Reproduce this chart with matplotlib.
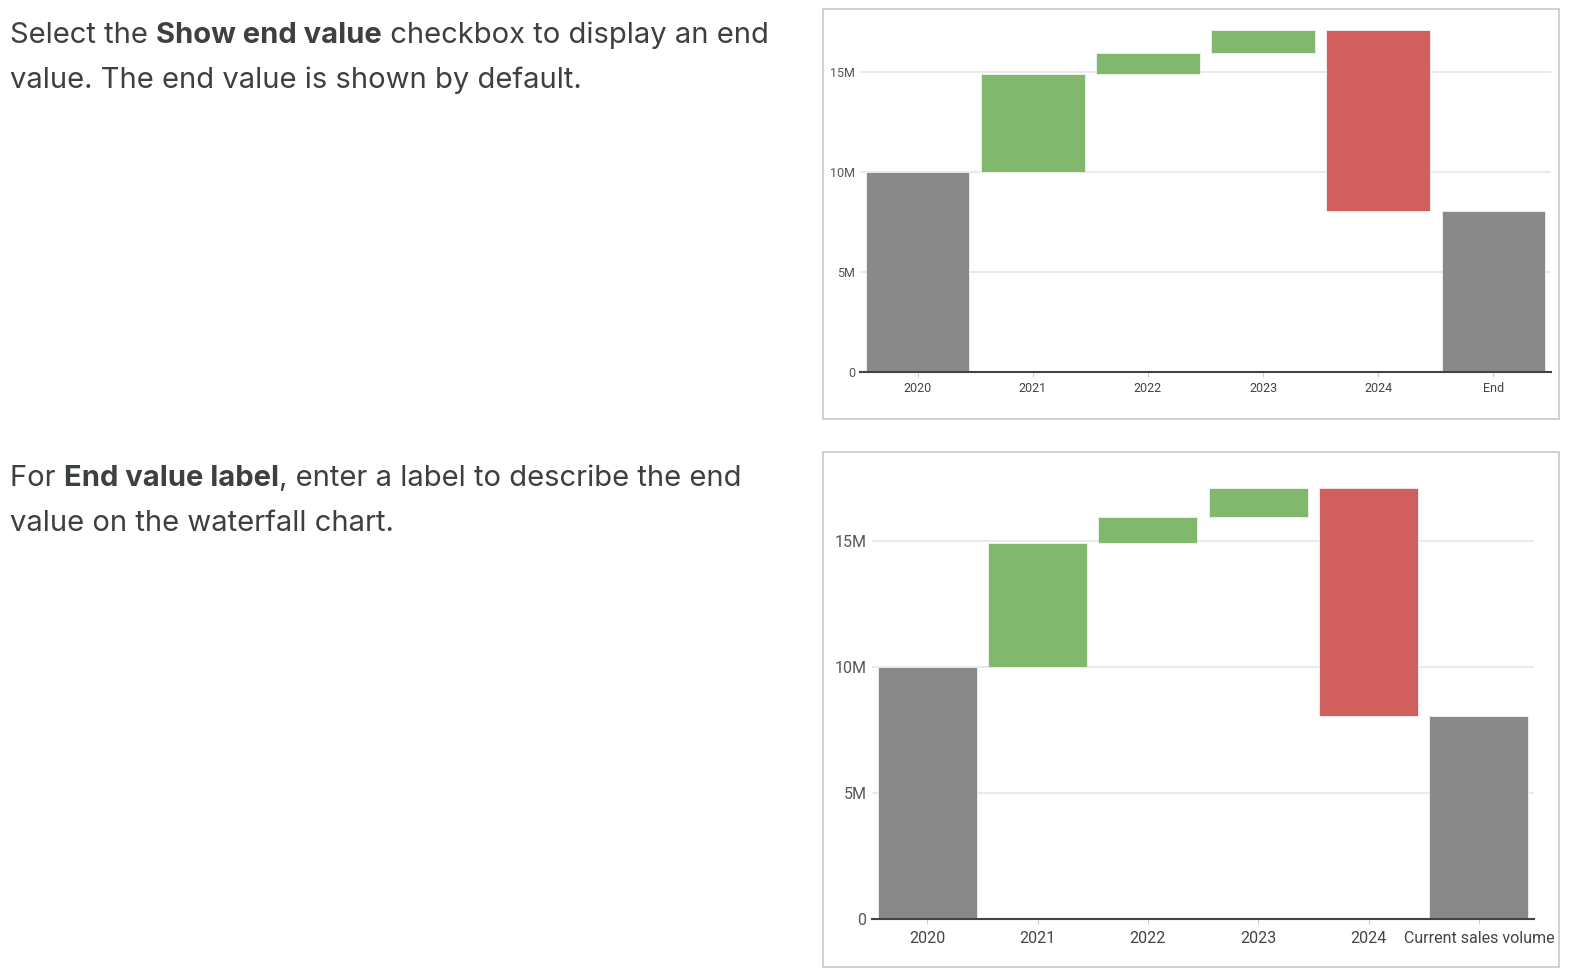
import matplotlib.pyplot as plt
from matplotlib.patches import Rectangle
from matplotlib.ticker import FuncFormatter

W, H = 1570, 980

years = ['2020', '2021', '2022', '2023', '2024']
start_value = 10.0                      # millions
changes = [4.9, 1.05, 1.15, -9.05]      # 2021..2024, millions
end_label_top = 'End'
end_label_bottom = 'Current sales volume'

gray = '#898989'
green = '#82b76e'
red = '#d05f5d'
text_color = '#3c4043'


def px(x, y):
    return x / W, 1 - y / H


def waterfall(ax, end_label, fs, ymax, xpad, ypad):
    labels = years + [end_label]
    bottoms = [0]
    heights = [start_value]
    colors = [gray]
    level = start_value
    for c in changes:
        if c >= 0:
            bottoms.append(level)
            heights.append(c)
            colors.append(green)
        else:
            bottoms.append(level + c)
            heights.append(-c)
            colors.append(red)
        level += c
    bottoms.append(0)
    heights.append(level)
    colors.append(gray)

    xs = list(range(len(labels)))
    ax.bar(xs, heights, bottom=bottoms, width=0.9, color=colors,
           edgecolor='#f2f2f2', linewidth=0.6, zorder=3)
    ax.set_xticks(xs)
    ax.set_xticklabels(labels)
    ax.set_yticks([0, 5, 10, 15])
    ax.yaxis.set_major_formatter(FuncFormatter(lambda v, p: '0' if v == 0 else f'{v:.0f}M'))
    ax.set_ylim(0, ymax)
    ax.set_xlim(-0.5, 5.5)
    ax.grid(axis='y', color='#e6e6e6', linewidth=1.2, zorder=0)
    for s in ['top', 'right', 'left']:
        ax.spines[s].set_visible(False)
    ax.spines['bottom'].set_color('#444444')
    ax.spines['bottom'].set_linewidth(1.5)
    ax.spines['bottom'].set_zorder(4)
    ax.tick_params(axis='y', length=0, pad=ypad, labelsize=fs, labelcolor='#555555')
    ax.tick_params(axis='x', length=3.5, color='#cccccc', pad=xpad, labelsize=fs, labelcolor='#444444')
    for lab in ax.get_xticklabels() + ax.get_yticklabels():
        lab.set_fontfamily('Roboto')


fig = plt.figure(figsize=(W / 100, H / 100), dpi=100)

# frames around the two screenshots
for (x0, y0, x1, y1) in [(823, 9, 1559, 419), (823, 452, 1559, 967)]:
    fx, fy = px(x0, y1)
    fig.add_artist(Rectangle((fx, fy), (x1 - x0) / W, (y1 - y0) / H,
                             transform=fig.transFigure, fill=False,
                             edgecolor='#c8c8c8', linewidth=1.2))

l, b = px(860, 372)
r, t = px(1551, 22)
ax1 = fig.add_axes([l, b, r - l, t - b])
waterfall(ax1, end_label_top, 9, 17.5, 3.5, 3.5)

l, b = px(872, 919)
r, t = px(1534, 475)
ax2 = fig.add_axes([l, b, r - l, t - b])
waterfall(ax2, end_label_bottom, 11.5, 17.6, 5, 4)

# left-hand description text with bold runs
lines = [
    (43, [('Select the ', 'normal'), ('Show end value', 'bold'), (' checkbox to display an end', 'normal')]),
    (88, [('value. The end value is shown by default.', 'normal')]),
    (486, [('For ', 'normal'), ('End value label', 'bold'), (', enter a label to describe the end', 'normal')]),
    (531, [('value on the waterfall chart.', 'normal')]),
]
fig.canvas.draw()
renderer = fig.canvas.get_renderer()
for y, parts in lines:
    x = 10
    for s, wgt in parts:
        fx, fy = px(x, y)
        txt = fig.text(fx, fy, s, fontsize=21, fontweight=wgt, color=text_color,
                       family='Inter', va='baseline', ha='left')
        bb = txt.get_window_extent(renderer)
        x = bb.x1

fig.savefig('out.png', dpi=100)
